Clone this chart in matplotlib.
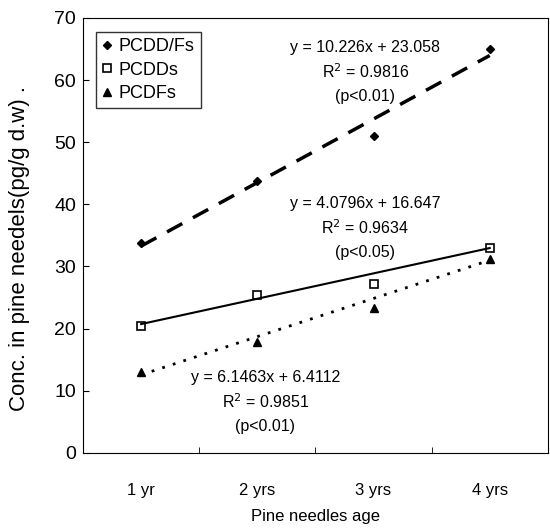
import matplotlib.pyplot as plt
import numpy as np

plt.rcParams['font.family'] = ['Liberation Sans', 'DejaVu Sans']

ages = ['1 yr', '2 yrs', '3 yrs', '4 yrs']
pcdd_fs = [33.8, 43.8, 51.0, 65.0]
pcdds = [20.4, 25.4, 27.1, 33.0]
pcdfs = [13.0, 17.9, 23.3, 31.2]

# trendline coefficients as printed on the chart
fit_pcdd_fs = (10.226, 23.058)
fit_pcdds = (4.0796, 16.647)
fit_pcdfs = (6.1463, 6.4112)

x = np.arange(1, len(ages) + 1)

fig = plt.figure(figsize=(5.5, 5.29), dpi=100)
ax = fig.add_axes([0.151, 0.144, 0.845, 0.822])

ax.plot(x, pcdd_fs, 'kD', ms=4.5, label='PCDD/Fs')
ax.plot(x, pcdds, 's', mfc='white', mec='k', mew=1.2, ms=6, label='PCDDs')
ax.plot(x, pcdfs, 'k^', ms=6, label='PCDFs')

ax.plot(x, fit_pcdd_fs[0] * x + fit_pcdd_fs[1], 'k', lw=2.5, dashes=(5, 3.5))
ax.plot(x, fit_pcdds[0] * x + fit_pcdds[1], 'k', lw=1.5)
ax.plot(x, fit_pcdfs[0] * x + fit_pcdfs[1], 'k', lw=2, dashes=(1, 3))

eq_font = dict(ha='center', va='center', fontsize=11.5)

ax.text(2.93, 65.2, 'y = 10.226x + 23.058', **eq_font)
ax.text(2.93, 61.3, 'R$^2$ = 0.9816', **eq_font)
ax.text(2.93, 57.3, '(p<0.01)', **eq_font)

ax.text(2.93, 40.1, 'y = 4.0796x + 16.647', **eq_font)
ax.text(2.93, 36.2, 'R$^2$ = 0.9634', **eq_font)
ax.text(2.93, 32.3, '(p<0.05)', **eq_font)

ax.text(2.07, 12.2, 'y = 6.1463x + 6.4112', **eq_font)
ax.text(2.07, 8.2, 'R$^2$ = 0.9851', **eq_font)
ax.text(2.07, 4.2, '(p<0.01)', **eq_font)

ax.set_xlim(0.5, 4.5)
ax.set_ylim(0, 70)
ax.set_yticks(range(0, 71, 10))
ax.set_xticks(x)
ax.set_xticklabels(ages)
ax.set_xticks([1.5, 2.5, 3.5], minor=True)
ax.tick_params(axis='x', which='major', length=0, pad=22, labelsize=12)
ax.tick_params(axis='x', which='minor', direction='in', length=4)
ax.tick_params(axis='y', direction='in', length=4, labelsize=14, pad=5)

ax.set_xlabel('Pine needles age', fontsize=12, labelpad=8)
ax.set_ylabel('Conc. in pine needels(pg/g d.w) .', fontsize=16)
ax.yaxis.set_label_coords(-0.114, 0.47)

leg = ax.legend(loc='upper left', bbox_to_anchor=(0.028, 0.968), fontsize=13,
                frameon=True, fancybox=False, edgecolor='k', handlelength=0.5,
                handletextpad=0.4, borderpad=0.35, labelspacing=0.35,
                borderaxespad=0)
leg.get_frame().set_linewidth(1.0)

fig.savefig('out.png', dpi=100)
